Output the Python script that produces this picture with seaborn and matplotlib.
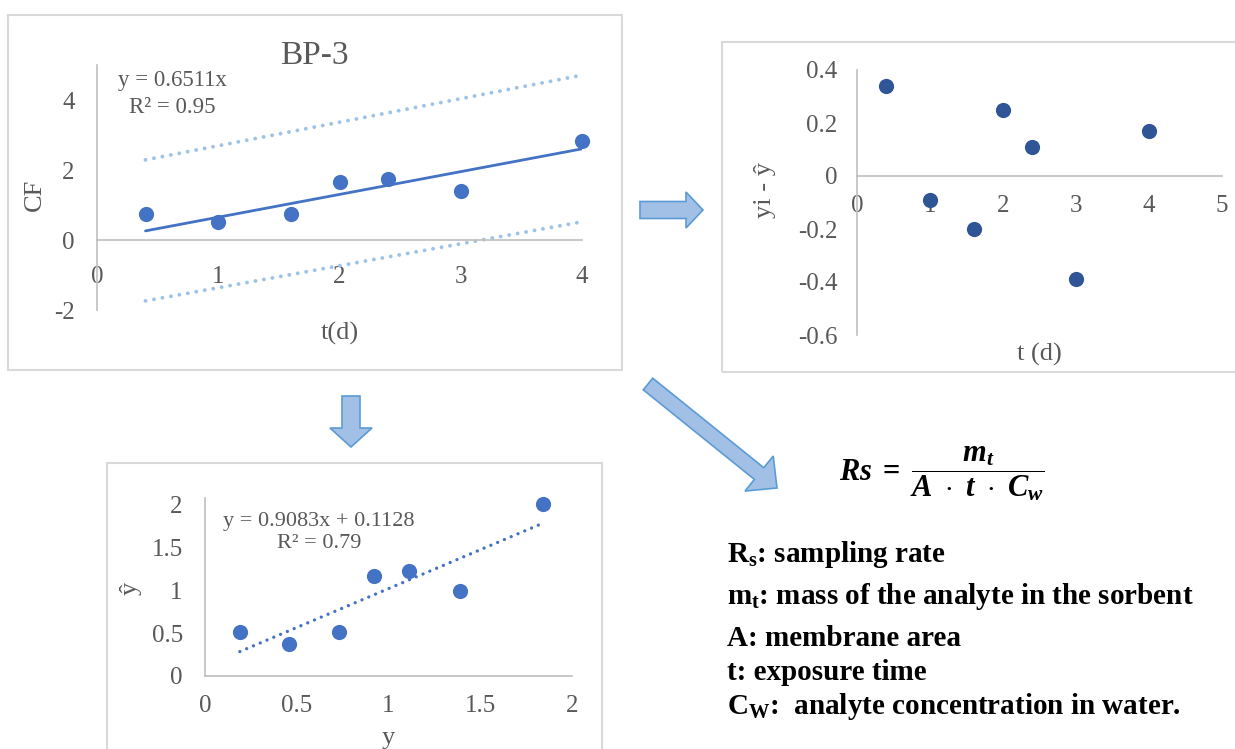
import numpy as np
import pandas as pd
import matplotlib.pyplot as plt
import seaborn as sns
from matplotlib.patches import Rectangle, FancyArrow
from matplotlib.ticker import FuncFormatter

# --- data ---
# top-left: concentration factor vs exposure time
t_days = [0.4, 1.0, 1.6, 2.0, 2.4, 3.0, 4.0]
cf = [0.75, 0.52, 0.75, 1.66, 1.73, 1.41, 2.84]
cf_slope = 0.6511
band_t = [0.4, 4.0]
band_upper = [2.29, 4.71]
band_lower = [-1.74, 0.52]

# top-right: residuals
resid = [0.34, -0.09, -0.2, 0.25, 0.11, -0.39, 0.17]

# bottom-left: predicted vs observed
y_obs = [0.19, 0.46, 0.73, 0.92, 1.11, 1.39, 1.84]
y_hat = [0.52, 0.37, 0.52, 1.17, 1.23, 0.99, 2.01]
fit_slope = 0.9083
fit_icpt = 0.1128

legend_lines = [
    r'R$_\mathrm{s}$: sampling rate',
    r'm$_\mathrm{t}$: mass of the analyte in the sorbent',
    'A: membrane area',
    't: exposure time',
    r'C$_\mathrm{W}$:  analyte concentration in water.',
]

sns.set_style('white')
plt.rcParams['font.family'] = ['Liberation Serif', 'DejaVu Serif']
plt.rcParams['axes.unicode_minus'] = False
plt.rcParams['mathtext.fontset'] = 'custom'
plt.rcParams['mathtext.rm'] = 'Liberation Serif:bold'
plt.rcParams['mathtext.it'] = 'Liberation Serif:bold:italic'
plt.rcParams['mathtext.bf'] = 'Liberation Serif:bold'

W, H = 1235, 749
gray_txt = '#595959'
gray_ax = '#BFBFBF'
blue = '#4472C4'
dark_blue = '#2F5597'
light_blue = '#9DC3E6'
dots = (0, (0.01, 2.2))


def box(l, t, r, b):
    # pixel box (top-left origin) -> figure fraction rect
    return [l / W, 1 - b / H, (r - l) / W, (b - t) / H]


def inch(x, y):
    return x / 100, (H - y) / 100


def excel_axes(ax, xpad, ypad):
    sns.despine(ax=ax)
    ax.spines['bottom'].set_position(('data', 0))
    for s in ['left', 'bottom']:
        ax.spines[s].set_color(gray_ax)
        ax.spines[s].set_linewidth(1.2)
    ax.tick_params(length=0, labelsize=18, labelcolor=gray_txt)
    ax.tick_params(axis='x', pad=xpad)
    ax.tick_params(axis='y', pad=ypad)
    fmt = FuncFormatter(lambda v, p: '%g' % round(v, 3))
    ax.xaxis.set_major_formatter(fmt)
    ax.yaxis.set_major_formatter(fmt)
    ax.patch.set_alpha(0)


fig = plt.figure(figsize=(W / 100, H / 100), dpi=100)

# panel frames
for l, t, r, b in [(8, 15, 622, 370), (722, 42, 1240, 372), (107, 463, 602, 760)]:
    fig.add_artist(Rectangle((l / W, 1 - b / H), (r - l) / W, (b - t) / H,
                             transform=fig.transFigure, fill=False,
                             edgecolor='#D9D9D9', linewidth=1.5))

# --- panel 1: CF vs t ---
ax1 = fig.add_axes(box(97, 65, 582, 310))
t_arr = np.array(t_days)
for band in (band_upper, band_lower):
    sns.lineplot(x=band_t, y=band, ax=ax1, color=light_blue, lw=2.8,
                 linestyle=dots, dash_capstyle='round')
sns.lineplot(x=t_arr, y=cf_slope * t_arr, ax=ax1, color=blue, lw=2)
sns.scatterplot(x=t_days, y=cf, ax=ax1, color=blue, s=120, linewidth=0,
                zorder=3, clip_on=False)
ax1.set_xlim(0, 4)
ax1.set_ylim(-2, 5)
ax1.set_xticks([0, 1, 2, 3, 4])
ax1.set_yticks([-2, 0, 2, 4])
excel_axes(ax1, xpad=19, ypad=16)
ax1.set_xlabel('t(d)', fontsize=19, color=gray_txt)
ax1.set_ylabel('CF', fontsize=19, color=gray_txt)
ax1.xaxis.set_label_coords(0.5, -0.094)
ax1.xaxis.label.set_va('center')
ax1.yaxis.set_label_coords(-0.128, 0.469)
ax1.yaxis.label.set_va('center')
ax1.text(0.449, 1.037, 'BP-3', transform=ax1.transAxes, ha='center', va='center',
         fontsize=24, color=gray_txt)
ax1.text(0.155, 0.935, 'y = 0.6511x', transform=ax1.transAxes, ha='center',
         va='center', fontsize=16.5, color=gray_txt)
ax1.text(0.155, 0.825, 'R² = 0.95', transform=ax1.transAxes, ha='center',
         va='center', fontsize=16.5, color=gray_txt)

# --- panel 2: residuals ---
ax2 = fig.add_axes(box(857, 70, 1222, 335))
sns.scatterplot(x=t_days, y=resid, ax=ax2, color=dark_blue, s=120, linewidth=0,
                zorder=3, clip_on=False)
ax2.set_xlim(0, 5)
ax2.set_ylim(-0.6, 0.4)
ax2.set_xticks([0, 1, 2, 3, 4, 5])
ax2.set_yticks([-0.6, -0.4, -0.2, 0, 0.2, 0.4])
excel_axes(ax2, xpad=14, ypad=14)
ax2.set_xlabel('t (d)', fontsize=19, color=gray_txt)
ax2.set_ylabel('yi - ŷ', fontsize=19, color=gray_txt)
ax2.xaxis.set_label_coords(0.501, -0.075)
ax2.xaxis.label.set_va('center')
ax2.yaxis.set_label_coords(-0.252, 0.547)
ax2.yaxis.label.set_va('center')

# --- panel 3: y-hat vs y ---
ax3 = fig.add_axes(box(205, 498, 572, 676))
y_arr = np.array(y_obs)
sns.lineplot(x=y_arr, y=fit_slope * y_arr + fit_icpt, ax=ax3, color=blue, lw=2.4,
             linestyle=dots, dash_capstyle='round')
sns.scatterplot(x=y_obs, y=y_hat, ax=ax3, color=blue, s=120, linewidth=0,
                zorder=3, clip_on=False)
ax3.set_xlim(0, 2)
ax3.set_ylim(0, 2.08)
ax3.set_xticks([0, 0.5, 1, 1.5, 2])
ax3.set_yticks([0, 0.5, 1, 1.5, 2])
excel_axes(ax3, xpad=14, ypad=16)
ax3.set_xlabel('y', fontsize=19, color=gray_txt)
ax3.set_ylabel('ŷ', fontsize=19, color=gray_txt)
ax3.xaxis.set_label_coords(0.5, -0.35)
ax3.xaxis.label.set_va('center')
ax3.yaxis.set_label_coords(-0.204, 0.494)
ax3.yaxis.label.set_va('center')
ax3.text(0.31, 0.87, 'y = 0.9083x + 0.1128', transform=ax3.transAxes, ha='center',
         va='center', fontsize=16, color=gray_txt)
ax3.text(0.31, 0.745, 'R² = 0.79', transform=ax3.transAxes, ha='center',
         va='center', fontsize=16, color=gray_txt)

# --- block arrows ---
arrow_kw = dict(transform=fig.dpi_scale_trans, facecolor='#A2C0E6',
                edgecolor='#5B9BD5', linewidth=1.2, length_includes_head=True)
for (x0, y0), (x1, y1), w, hw, hl in [
        ((640, 210), (703, 210), 0.17, 0.36, 0.17),
        ((351, 396), (351, 447), 0.18, 0.42, 0.19),
        ((648, 384), (777, 488), 0.15, 0.45, 0.23)]:
    ax0, ay0 = inch(x0, y0)
    ax1_, ay1 = inch(x1, y1)
    fig.add_artist(FancyArrow(ax0, ay0, ax1_ - ax0, ay1 - ay0, width=w,
                              head_width=hw, head_length=hl, **arrow_kw))

# --- formula and definitions ---
fig.text(942 / W, 1 - 474 / H,
         r'$Rs\;=\;\dfrac{m_t}{A\ \cdot\ t\ \cdot\ C_w}$',
         ha='center', va='center', fontsize=22, color='black')
for line, yc in zip(legend_lines, [555, 597, 638, 672, 707]):
    fig.text(727 / W, 1 - yc / H, line, ha='left', va='center', fontsize=21,
             fontweight='bold', color='black')

fig.savefig('out.png', dpi=100)
